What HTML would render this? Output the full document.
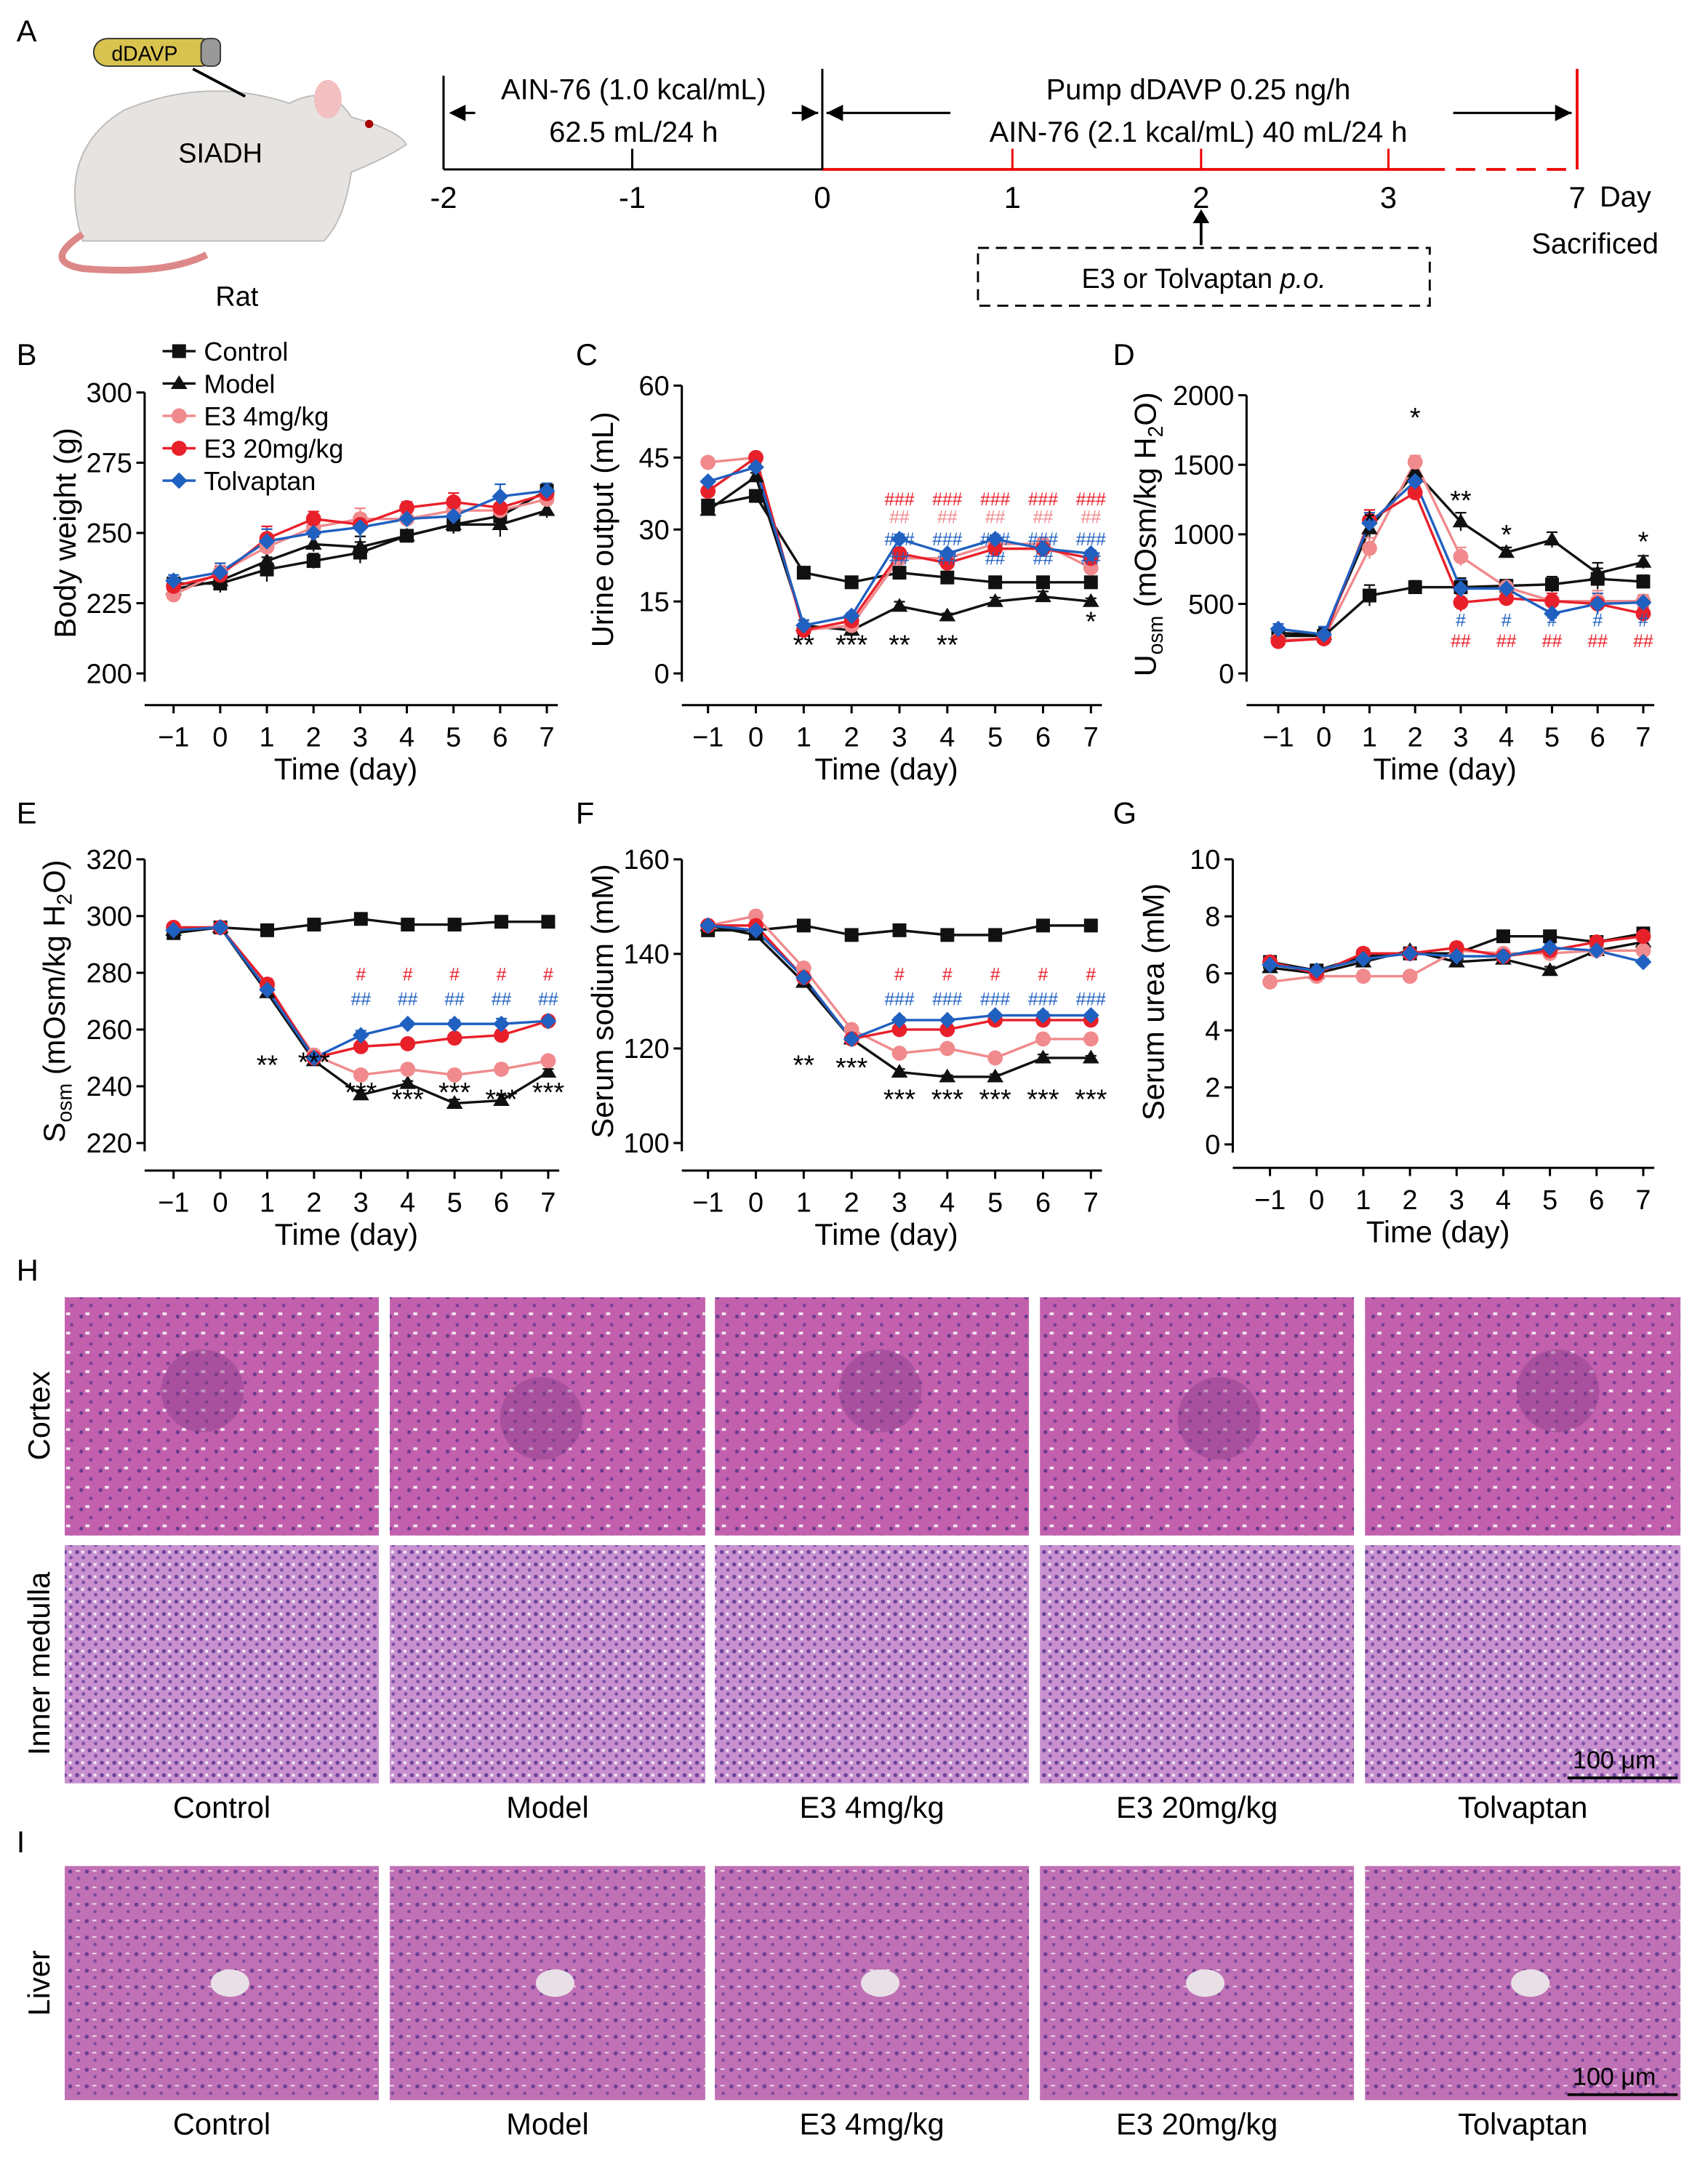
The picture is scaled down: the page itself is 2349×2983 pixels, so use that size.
<!DOCTYPE html>
<html><head><meta charset="utf-8"><style>
html,body{margin:0;padding:0;background:#fff;}
svg{display:block;}
text{font-family:"Liberation Sans",Arial,sans-serif;}
</style></head><body>
<svg id="s" xmlns="http://www.w3.org/2000/svg" width="2349" height="2983" viewBox="0 0 1240 1575" preserveAspectRatio="none">
<defs>
<pattern id="pc" width="14" height="14" patternUnits="userSpaceOnUse">
<rect width="14" height="14" fill="#c260ad"/><circle cx="3" cy="4" r="1.4" fill="#6a3a8c"/><circle cx="10" cy="10" r="1.3" fill="#7a3f96"/><rect x="6" y="1" width="3" height="2" fill="#f3e6f0"/>
</pattern>
<pattern id="pm" width="9" height="9" patternUnits="userSpaceOnUse">
<rect width="9" height="9" fill="#c890cf"/><circle cx="2" cy="2" r="1.5" fill="#6c4399"/><circle cx="6.5" cy="6" r="1.3" fill="#7b50a6"/><rect x="5" y="1" width="2" height="2" fill="#f5eef6"/>
</pattern>
<pattern id="pl" width="12" height="12" patternUnits="userSpaceOnUse">
<rect width="12" height="12" fill="#c070b5"/><circle cx="3" cy="3" r="1.5" fill="#6e3f94"/><circle cx="9" cy="8" r="1.2" fill="#7c4a9e"/><rect x="7" y="2" width="3" height="1" fill="#efe0ee"/>
</pattern>
</defs>
<rect width="1240" height="1575" fill="#fff"/>
<g id="g"></g>
</svg>
<script>
const g=document.getElementById('g');let h='';
function T(x,y,t,o){o=o||{};h+=`<text x="${x}" y="${y}" font-size="${o.s||20}" fill="${o.c||'#000'}" text-anchor="${o.a||'middle'}" ${o.tr?`transform="${o.tr}"`:''} ${o.st?`font-style="italic"`:''}>${t}</text>`;}
function L(x1,y1,x2,y2,c,w,d){h+=`<line x1="${x1}" y1="${y1}" x2="${x2}" y2="${y2}" stroke="${c||'#000'}" stroke-width="${w||1.6}" ${d?`stroke-dasharray="${d}"`:''}/>`;}
T(12,30,'A',{s:22,a:'start'});T(12,265,'B',{s:22,a:'start'});T(418,265,'C',{s:22,a:'start'});T(808,265,'D',{s:22,a:'start'});
T(12,598,'E',{s:22,a:'start'});T(418,598,'F',{s:22,a:'start'});T(808,598,'G',{s:22,a:'start'});T(12,930,'H',{s:22,a:'start'});T(12,1345,'I',{s:22,a:'start'});
h+=`<path d="M60 175 Q40 110 90 80 Q150 55 210 75 Q240 60 255 85 Q290 95 295 105 Q280 115 255 125 Q250 160 235 175 Z" fill="#e6e3e0" stroke="#bbb"/>`;
h+=`<path d="M60 170 Q30 190 60 195 Q120 200 150 185" fill="none" stroke="#d88" stroke-width="5"/>`;
h+=`<ellipse cx="238" cy="72" rx="10" ry="14" fill="#f2c0c0"/><circle cx="268" cy="90" r="3" fill="#a00"/>`;
h+=`<rect x="68" y="28" width="88" height="20" rx="10" fill="#d9c34f" stroke="#333"/><rect x="146" y="28" width="14" height="20" rx="5" fill="#999" stroke="#333"/>`;
T(105,44,'dDAVP',{s:15});L(140,50,178,70,'#000',2);T(160,118,'SIADH',{s:20});T(172,222,'Rat',{s:20});
L(322,123,597,123);L(597,123,1035,123,'#e00',2);L(1035,123,1145,123,'#e00',2,'14 8');
L(322,55,322,123);L(597,50,597,123);L(1145,50,1145,123,'#e00',2);
[[459,'#000'],[735,'#e00'],[872,'#e00'],[1008,'#e00']].forEach(a=>L(a[0],108,a[0],123,a[1]));
[[322,'-2'],[459,'-1'],[597,'0'],[735,'1'],[872,'2'],[1008,'3'],[1145,'7']].forEach(a=>T(a[0],151,a[1],{s:22}));
T(1180,150,'Day',{s:21});T(1158,184,'Sacrificed',{s:21});
L(328,82,345,82);h+=`<path d="M326 82 l12 -6 v12z"/><path d="M594 82 l-12 -6 v12z"/><path d="M600 82 l12 -6 v12z"/><path d="M1141 82 l-12 -6 v12z"/>`;
L(575,82,594,82);L(600,82,690,82);L(1055,82,1141,82);
T(460,72,'AIN-76 (1.0 kcal/mL)',{s:21});T(460,103,'62.5 mL/24 h',{s:21});
T(870,72,'Pump dDAVP 0.25 ng/h',{s:21});T(870,103,'AIN-76 (2.1 kcal/mL) 40 mL/24 h',{s:21});
L(872,178,872,160,'#000',2);h+=`<path d="M872 152 l-6 10 h12z"/>`;
h+=`<rect x="710" y="180" width="328" height="42" fill="none" stroke="#000" stroke-dasharray="8 5" stroke-width="1.5"/>`;
h+=`<text x="874" y="209" font-size="20" text-anchor="middle">E3 or Tolvaptan <tspan font-style="italic">p.o.</tspan></text>`;
const C={c:'#111',m:'#111',a:'#f08a8c',b:'#e8202a',t:'#2060c0'};
function mk(x,y,s,c){if(s=='sq')h+=`<rect x="${x-5}" y="${y-5}" width="10" height="10" fill="${c}"/>`;
else if(s=='tr')h+=`<path d="M${x} ${y-6} l6 10 h-12z" fill="${c}"/>`;
else if(s=='di')h+=`<path d="M${x} ${y-6} l6 6 l-6 6 l-6 -6z" fill="${c}"/>`;
else h+=`<circle cx="${x}" cy="${y}" r="5.5" fill="${c}"/>`;}
function chart(o){
 const Y=v=>o.yb-(v-o.v0)/(o.v1-o.v0)*(o.yb-o.yt);const X=i=>o.x0+(i)*(o.x8-o.x0)/8;
 L(o.ax,o.yt,o.ax,o.yb+6);o.ticks.forEach(v=>{L(o.ax-6,Y(v),o.ax,Y(v));T(o.ax-9,Y(v)+7,v,{s:20,a:'end'});});
 L(o.ax,o.xa,o.x8+8,o.xa);for(let i=0;i<9;i++){L(X(i),o.xa,X(i),o.xa+6);T(X(i),o.xa+30,i==0?'−1':i-1,{s:20});}
 T((o.ax+o.x8)/2,o.xa+54,'Time (day)',{s:22});
 h+=`<text x="0" y="0" font-size="22" text-anchor="middle" transform="translate(${o.ax-(o.lo||50)},${(o.yt+o.yb)/2}) rotate(-90)">${o.yl}</text>`;
 const ser=[['c','sq'],['m','tr'],['a','ci'],['b','ci'],['t','di']];
 ser.forEach(([k,s])=>{const d=o.d[k];let p='';d.forEach((v,i)=>{p+=(i?'L':'M')+X(i)+' '+Y(v);});
  d.forEach((v,i)=>{const e=o.e*(0.6+((i*7)%5)/6);L(X(i),Y(v)-e,X(i),Y(v)+e,C[k],1.2);L(X(i)-4,Y(v)-e,X(i)+4,Y(v)-e,C[k],1.2);});
  h+=`<path d="${p}" fill="none" stroke="${C[k]}" stroke-width="1.8"/>`;});
 ser.forEach(([k,s])=>o.d[k].forEach((v,i)=>mk(X(i),Y(v),s,C[k])));
 return {X,Y};}
let r;
r=chart({ax:105,yt:285,yb:489,v0:200,v1:300,ticks:[200,225,250,275,300],xa:512,x0:126,x8:397,e:7,yl:'Body weight (g)',
 d:{c:[232,232,237,240,243,249,253,256,265],m:[230,233,240,246,245,249,253,253,258],a:[228,236,245,252,255,255,258,258,262],b:[231,235,248,255,253,259,261,259,264],t:[233,236,247,250,252,255,256,263,265]}});
[['c','sq','Control'],['m','tr','Model'],['a','ci','E3 4mg/kg'],['b','ci','E3 20mg/kg'],['t','di','Tolvaptan']].forEach((a,i)=>{const y=255+i*23.5;L(118,y,142,y,C[a[0]],1.8);mk(130,y,a[1],C[a[0]]);T(148,y+7,a[2],{s:19,a:'start'});});
r=chart({ax:495,yt:280,yb:489,v0:0,v1:60,ticks:[0,15,30,45,60],xa:512,x0:514,x8:792,e:3,yl:'Urine output (mL)',
 d:{c:[35,37,21,19,21,20,19,19,19],m:[34,41,10,9,14,12,15,16,15],a:[44,45,9,10,24,24,27,27,22],b:[38,45,9,11,25,23,26,26,24],t:[40,43,10,12,28,25,28,26,25]}});
[[2,'**'],[3,'***'],[4,'**'],[5,'**'],[8,'*']].forEach(a=>T(r.X(a[0]),a[0]==8?458:475,a[1],{s:20}));
[4,5,6,7,8].forEach(i=>{T(r.X(i),367,'###',{s:13,c:'#e8202a'});T(r.X(i),380,'##',{s:13,c:'#f08a8c'});T(r.X(i),396,'###',{s:13,c:'#2060c0'});T(r.X(i),410,'##',{s:13,c:'#2060c0'});});
r=chart({ax:905,yt:287,yb:489,v0:0,v1:2000,ticks:[0,500,1000,1500,2000],xa:512,x0:928,x8:1193,e:6,lo:66,yl:'U<tspan font-size="15" dy="5">osm</tspan><tspan dy="-5"> (mOsm/kg H</tspan><tspan font-size="15" dy="5">2</tspan><tspan dy="-5">O)</tspan>',
 d:{c:[270,270,560,620,620,630,640,680,660],m:[290,280,1040,1450,1090,870,960,720,800],a:[240,250,900,1520,840,620,520,520,520],b:[230,250,1100,1300,510,540,520,500,430],t:[320,280,1080,1380,610,610,430,500,510]}});
[[2,'*',385],[3,'*',310],[4,'**',370],[5,'*',395],[8,'*',400]].forEach(a=>T(r.X(a[0]),a[2],a[1],{s:20}));
[4,5,6,7,8].forEach(i=>{T(r.X(i),455,'#',{s:13,c:'#2060c0'});T(r.X(i),470,'##',{s:13,c:'#e8202a'});});
r=chart({ax:105,yt:624,yb:830,v0:220,v1:320,ticks:[220,240,260,280,300,320],xa:850,x0:126,x8:398,e:3,lo:58,yl:'S<tspan font-size="15" dy="5">osm</tspan><tspan dy="-5"> (mOsm/kg H</tspan><tspan font-size="15" dy="5">2</tspan><tspan dy="-5">O)</tspan>',
 d:{c:[294,296,295,297,299,297,297,298,298],m:[295,296,273,249,237,241,234,235,245],a:[296,296,275,251,244,246,244,246,249],b:[296,296,276,250,254,255,257,258,263],t:[295,296,274,250,258,262,262,262,263]}});
T(r.X(2),780,'**',{s:20});[3,4,5,6,7,8].forEach(i=>T(r.X(i),i==3?778:(i%2?805:800),'***',{s:20}));
[4,5,6,7,8].forEach(i=>{T(r.X(i),712,'#',{s:13,c:'#e8202a'});T(r.X(i),730,'##',{s:13,c:'#2060c0'});});
r=chart({ax:495,yt:624,yb:830,v0:100,v1:160,ticks:[100,120,140,160],xa:850,x0:514,x8:792,e:2,yl:'Serum sodium (mM)',
 d:{c:[145,145,146,144,145,144,144,146,146],m:[146,144,134,122,115,114,114,118,118],a:[146,148,137,124,119,120,118,122,122],b:[146,146,135,122,124,124,126,126,126],t:[146,145,135,122,126,126,127,127,127]}});
T(r.X(2),780,'**',{s:20});[3,4,5,6,7,8].forEach(i=>T(r.X(i),i==3?782:805,'***',{s:20}));
[4,5,6,7,8].forEach(i=>{T(r.X(i),712,'#',{s:13,c:'#e8202a'});T(r.X(i),730,'###',{s:13,c:'#2060c0'});});
r=chart({ax:895,yt:624,yb:831,v0:0,v1:10,ticks:[0,2,4,6,8,10],xa:848,x0:922,x8:1193,e:3,yl:'Serum urea (mM)',
 d:{c:[6.4,6.1,6.6,6.7,6.7,7.3,7.3,7.1,7.4],m:[6.2,6.0,6.4,6.8,6.4,6.5,6.1,6.8,7.1],a:[5.7,5.9,5.9,5.9,6.8,6.7,6.7,6.8,6.8],b:[6.4,6.0,6.7,6.7,6.9,6.6,6.8,7.1,7.3],t:[6.3,6.1,6.5,6.7,6.6,6.6,6.9,6.8,6.4]}});
const cols=[[47,275],[283,512],[519,747],[755,983],[991,1220]],names=['Control','Model','E3 4mg/kg','E3 20mg/kg','Tolvaptan'];
cols.forEach((c,i)=>{h+=`<rect x="${c[0]}" y="942" width="${c[1]-c[0]}" height="173" fill="url(#pc)"/>`;
 h+=`<circle cx="${c[0]+100+i*10}" cy="${1010+(i%2)*20}" r="30" fill="#8a3f8c" opacity=".45"/>`;
 h+=`<rect x="${c[0]}" y="1122" width="${c[1]-c[0]}" height="173" fill="url(#pm)"/>`;
 h+=`<rect x="${c[0]}" y="1355" width="${c[1]-c[0]}" height="170" fill="url(#pl)"/>`;
 h+=`<ellipse cx="${c[0]+120}" cy="${1440}" rx="14" ry="10" fill="#e8e0e6"/>`;
 T((c[0]+c[1])/2,1320,names[i],{s:22});T((c[0]+c[1])/2,1550,names[i],{s:22});});
h+=`<text font-size="22" text-anchor="middle" transform="translate(36,1028) rotate(-90)">Cortex</text>`;
h+=`<text font-size="22" text-anchor="middle" transform="translate(36,1208) rotate(-90)">Inner medulla</text>`;
h+=`<text font-size="22" text-anchor="middle" transform="translate(36,1440) rotate(-90)">Liver</text>`;
L(1138,1291,1218,1291,'#000',2);T(1172,1284,'100 μm',{s:18});L(1138,1521,1218,1521,'#000',2);T(1172,1514,'100 μm',{s:18});
g.innerHTML=h;
</script>
</body></html>
